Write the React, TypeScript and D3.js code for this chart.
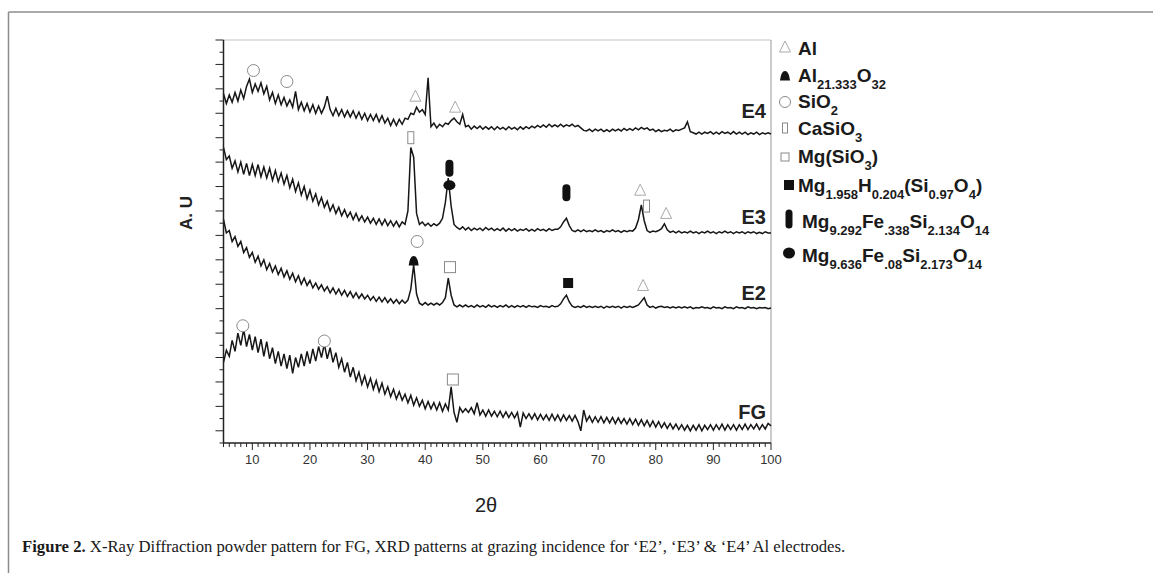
import * as d3 from "d3";

// 2θ grid shared by every pattern (0.5° step)
const angles = d3.range(5, 100.001, 0.5);

// intensities in arbitrary units (patterns already stacked), one value per angle
const e4 = [
  28.6, 27.8, 28.5, 27.9, 28.7, 28.0, 28.9, 28.2, 29.2, 29.8, 28.7, 29.4, 28.8, 29.5, 28.6, 29.2, 28.1, 28.7, 27.8, 28.5,
  27.7, 28.3, 27.6, 28.1, 27.5, 28.8, 27.3, 27.9, 27.2, 27.8, 27.1, 27.7, 27.0, 27.6, 27.0, 27.5, 28.4, 27.3, 26.8, 27.4,
  26.8, 27.3, 26.7, 27.2, 26.7, 27.2, 26.6, 27.1, 26.5, 27.0, 26.4, 26.9, 26.4, 26.9, 26.3, 26.8, 26.2, 26.6, 26.0, 26.5,
  26.0, 26.5, 26.1, 26.6, 26.5, 27.0, 26.9, 27.5, 27.1, 27.3, 26.9, 29.9, 25.9, 26.2, 25.8, 26.1, 25.9, 26.2, 26.1, 26.4,
  26.6, 26.3, 26.1, 26.9, 25.9, 26.0, 25.7, 25.95, 25.75, 25.95, 25.7, 25.9, 25.7, 25.9, 25.65, 25.9, 25.7, 25.85, 25.65, 25.9,
  25.7, 25.85, 25.65, 25.9, 25.7, 25.9, 25.75, 25.95, 25.8, 26.0, 25.85, 26.05, 25.85, 26.1, 25.9, 26.05, 25.9, 26.1, 25.9, 26.05,
  25.95, 26.1, 25.9, 26.0, 25.8, 25.6, 25.55, 25.7, 25.5, 25.7, 25.55, 25.7, 25.5, 25.65, 25.5, 25.7, 25.55, 25.7, 25.55, 25.75,
  25.6, 25.75, 25.6, 25.8, 25.65, 25.85, 25.7, 25.8, 25.6, 25.7, 25.5, 25.65, 25.5, 25.6, 25.55, 25.7, 25.5, 25.65, 25.6, 25.7,
  25.8, 26.3, 25.5, 25.4, 25.3, 25.45, 25.3, 25.45, 25.35, 25.5, 25.3, 25.45, 25.3, 25.5, 25.35, 25.45, 25.3, 25.5, 25.3, 25.45,
  25.3, 25.45, 25.25, 25.4, 25.3, 25.45, 25.25, 25.4, 25.3, 25.4, 25.3,
];

const e3 = [
  24.2, 23.2, 23.5, 22.5, 23.1, 22.2, 23.0, 22.0, 22.9, 21.9, 22.8, 21.9, 22.8, 21.8, 22.6, 21.7, 22.5, 21.5, 22.3, 21.4,
  22.1, 21.2, 21.9, 20.9, 21.6, 20.6, 21.3, 20.3, 21.0, 20.0, 20.7, 19.8, 20.4, 19.5, 20.1, 19.3, 19.8, 19.0, 19.5, 18.8,
  19.3, 18.6, 19.1, 18.5, 18.9, 18.3, 18.8, 18.2, 18.6, 18.1, 18.5, 18.0, 18.4, 17.9, 18.35, 17.85, 18.3, 17.8, 18.2, 17.75,
  18.15, 17.7, 18.1, 17.9, 19.0, 24.2, 23.4, 18.8, 17.9, 18.1, 17.8, 18.0, 17.75, 17.95, 17.8, 18.0, 18.4, 19.7, 21.7, 19.4,
  17.9, 17.65, 17.5, 17.7, 17.45, 17.65, 17.4, 17.6, 17.45, 17.6, 17.4, 17.65, 17.45, 17.6, 17.4, 17.55, 17.4, 17.6, 17.35, 17.55,
  17.4, 17.55, 17.35, 17.5, 17.4, 17.55, 17.35, 17.5, 17.35, 17.55, 17.4, 17.5, 17.35, 17.55, 17.4, 17.5, 17.5, 17.7, 18.1, 18.4,
  17.8, 17.4, 17.3, 17.45, 17.3, 17.45, 17.3, 17.4, 17.3, 17.45, 17.3, 17.4, 17.25, 17.4, 17.3, 17.45, 17.3, 17.4, 17.25, 17.4,
  17.3, 17.4, 17.35, 17.6, 18.3, 19.5, 18.2, 17.4, 17.25, 17.35, 17.3, 17.4, 17.55, 17.95, 17.45, 17.25, 17.35, 17.2, 17.35, 17.2,
  17.3, 17.2, 17.35, 17.2, 17.3, 17.15, 17.3, 17.2, 17.35, 17.2, 17.3, 17.15, 17.3, 17.2, 17.35, 17.2, 17.3, 17.15, 17.3, 17.2,
  17.3, 17.15, 17.3, 17.2, 17.3, 17.15, 17.25, 17.15, 17.3, 17.2, 17.2,
];

const e2 = [
  18.3, 17.2, 17.4, 16.5, 16.9, 16.1, 16.5, 15.6, 16.0, 15.2, 15.6, 14.8, 15.3, 14.5, 15.0, 14.2, 14.7, 14.0, 14.5, 13.8,
  14.3, 13.6, 14.1, 13.4, 13.9, 13.2, 13.7, 13.0, 13.5, 12.9, 13.3, 12.7, 13.1, 12.6, 12.95, 12.45, 12.8, 12.3, 12.7, 12.2,
  12.6, 12.1, 12.5, 12.0, 12.4, 11.9, 12.3, 11.85, 12.2, 11.8, 12.1, 11.7, 12.0, 11.6, 11.95, 11.55, 11.9, 11.5, 11.8, 11.45,
  11.75, 11.4, 11.7, 11.45, 11.7, 12.6, 14.6, 12.2, 11.45, 11.3, 11.5, 11.3, 11.45, 11.3, 11.45, 11.3, 11.5, 11.9, 13.5, 12.1,
  11.3, 11.15, 11.3, 11.15, 11.3, 11.15, 11.25, 11.1, 11.3, 11.15, 11.25, 11.1, 11.3, 11.15, 11.25, 11.1, 11.25, 11.15, 11.3, 11.1,
  11.25, 11.1, 11.25, 11.15, 11.25, 11.1, 11.25, 11.15, 11.2, 11.1, 11.25, 11.15, 11.2, 11.1, 11.25, 11.15, 11.2, 11.4, 11.8, 12.1,
  11.55, 11.2, 11.1, 11.2, 11.1, 11.25, 11.1, 11.2, 11.1, 11.2, 11.1, 11.2, 11.05, 11.2, 11.1, 11.2, 11.1, 11.2, 11.05, 11.2,
  11.1, 11.2, 11.1, 11.2, 11.3, 11.6, 11.9, 11.3, 11.1, 11.2, 11.05, 11.15, 11.2, 11.1, 11.15, 11.05, 11.15, 11.05, 11.15, 11.05,
  11.15, 11.05, 11.15, 11.0, 11.1, 11.05, 11.15, 11.05, 11.1, 11.0, 11.15, 11.05, 11.1, 11.0, 11.15, 11.05, 11.1, 11.0, 11.15, 11.05,
  11.1, 11.0, 11.15, 11.05, 11.1, 11.0, 11.1, 11.05, 11.1, 11.0, 11.05,
];

const fg = [
  6.6, 7.6, 7.1, 8.4, 7.5, 9.0, 8.0, 9.3, 7.9, 8.9, 7.6, 8.7, 7.4, 8.5, 7.1, 8.3, 6.9, 7.8, 6.5, 7.5,
  6.3, 7.3, 6.1, 7.2, 5.7, 7.0, 6.2, 7.3, 6.3, 7.5, 6.5, 7.7, 6.7, 7.9, 7.0, 8.1, 6.9, 7.8, 6.6, 7.4,
  6.2, 6.9, 5.8, 6.6, 5.4, 6.2, 5.1, 5.8, 4.8, 5.5, 4.6, 5.3, 4.4, 5.1, 4.2, 4.9, 4.0, 4.6, 3.8, 4.4,
  3.6, 4.2, 3.5, 4.0, 3.3, 3.9, 3.1, 3.7, 3.0, 3.5, 2.8, 3.4, 2.8, 3.3, 2.7, 3.3, 2.6, 3.2, 2.7, 4.6,
  2.5, 1.7, 2.9, 2.5, 2.8, 2.5, 2.9, 2.4, 3.3, 2.3, 2.7, 2.2, 2.7, 2.2, 2.6, 2.15, 2.6, 2.1, 2.55, 2.1,
  2.5, 2.05, 2.5, 1.3, 2.45, 2.0, 2.4, 1.95, 2.4, 1.9, 2.35, 1.9, 2.3, 1.85, 2.35, 1.85, 2.3, 1.8, 2.3, 1.85,
  2.25, 1.8, 2.25, 1.75, 1.0, 2.7, 1.8, 2.2, 1.7, 2.15, 1.7, 2.15, 1.65, 2.1, 1.65, 2.1, 1.6, 2.05, 1.6, 2.0,
  1.55, 2.0, 1.5, 1.95, 1.45, 1.9, 1.4, 1.85, 1.35, 1.8, 1.3, 1.75, 1.25, 1.65, 1.2, 1.6, 1.15, 1.55, 1.1, 1.5,
  1.05, 1.45, 1.0, 1.45, 1.05, 1.5, 1.0, 1.45, 1.1, 1.5, 1.05, 1.5, 1.1, 1.55, 1.05, 1.5, 1.1, 1.5, 1.05, 1.5,
  1.1, 1.55, 1.1, 1.5, 1.15, 1.55, 1.1, 1.5, 1.15, 1.6, 1.4,
];

const patterns = [
  { name: "E4", values: e4, labelAt: 26.6 },
  { name: "E3", values: e3, labelAt: 17.9 },
  { name: "E2", values: e2, labelAt: 11.7 },
  { name: "FG", values: fg, labelAt: 2.0 },
];

// phase markers: [2θ, height (a.u.), symbol]
const peakMarks: [number, number, string][] = [
  [10.2, 30.5, "circle"], [16.0, 29.6, "circle"], [38.3, 28.4, "tri"], [45.2, 27.5, "tri"],
  [37.5, 25.0, "rect"], [44.2, 22.5, "pill"], [44.2, 21.1, "ellipse"], [64.5, 20.5, "pill"],
  [77.3, 20.7, "tri"], [78.4, 19.4, "rect"], [81.8, 18.8, "tri"],
  [38.6, 16.5, "circle"], [38.0, 14.9, "dome"], [44.3, 14.4, "square"], [64.8, 13.1, "fsquare"], [77.8, 12.9, "tri"],
  [8.35, 9.6, "circle"], [22.5, 8.35, "circle"], [44.8, 5.2, "square"],
];

const xTicks = d3.range(10, 101, 10);

const legendItems: { symbol: string; parts: [string, boolean][] }[] = [
  { symbol: "tri", parts: [["Al", false]] },
  { symbol: "dome", parts: [["Al", false], ["21.333", true], ["O", false], ["32", true]] },
  { symbol: "circle", parts: [["SiO", false], ["2", true]] },
  { symbol: "rect", parts: [["CaSiO", false], ["3", true]] },
  { symbol: "square", parts: [["Mg(SiO", false], ["3", true], [")", false]] },
  { symbol: "fsquare", parts: [["Mg", false], ["1.958", true], ["H", false], ["0.204", true], ["(Si", false], ["0.97", true], ["O", false], ["4", true], [")", false]] },
  { symbol: "pill", parts: [["Mg", false], ["9.292", true], ["Fe", false], [".338", true], ["Si", false], ["2.134", true], ["O", false], ["14", true]] },
  { symbol: "ellipse", parts: [["Mg", false], ["9.636", true], ["Fe", false], [".08", true], ["Si", false], ["2.173", true], ["O", false], ["14", true]] },
];
const legendBaselines = [55, 82, 108, 135, 163, 192, 228, 262];
const legendSymbolY = [47, 76, 102, 128, 157, 185, 219, 253];

const SANS = "'Liberation Sans', Arial, sans-serif";
const x = d3.scaleLinear().domain([5, 100]).range([223.5, 771]);
const y = d3.scaleLinear().domain([0, 33]).range([443, 40]);

function Symbol({ type, cx, cy, legend = false }: { type: string; cx: number; cy: number; legend?: boolean }) {
  const outline = { fill: "#fff", stroke: "#8a8a8a", strokeWidth: 1 };
  switch (type) {
    case "circle":
      return <circle cx={cx} cy={cy} r={legend ? 5.5 : 6} {...outline} />;
    case "tri":
      return <path d={`M${cx},${cy - 6}L${cx + 5.5},${cy + 5}L${cx - 5.5},${cy + 5}Z`} {...outline} stroke="#aaa" />;
    case "rect":
      return legend
        ? <rect x={cx - 2.5} y={cy - 5} width={5} height={10} {...outline} />
        : <rect x={cx - 3} y={cy - 6} width={6} height={12} {...outline} />;
    case "square":
      return legend
        ? <rect x={cx - 4} y={cy - 4} width={8} height={8} {...outline} />
        : <rect x={cx - 5.5} y={cy - 5.5} width={11} height={11} {...outline} />;
    case "fsquare":
      return <rect x={cx - 5} y={cy - 5} width={10} height={10} fill="#111" />;
    case "pill":
      return legend
        ? <rect x={cx - 3.5} y={cy - 9.5} width={7} height={19} rx={3.5} fill="#111" />
        : <rect x={cx - 4} y={cy - 8.5} width={8} height={17} rx={4} fill="#111" />;
    case "ellipse":
      return legend
        ? <ellipse cx={cx} cy={cy} rx={6} ry={5.5} fill="#111" />
        : <ellipse cx={cx} cy={cy} rx={6} ry={5} fill="#111" />;
    case "dome":
      return <path d={`M${cx - 5},${cy + 4.5}L${cx + 5},${cy + 4.5}Q${cx + 4},${cy - 5} ${cx},${cy - 5}Q${cx - 4},${cy - 5} ${cx - 5},${cy + 4.5}Z`} fill="#111" />;
    default:
      return null;
  }
}

export default function App() {
  const line = d3.line<number>().x((_, i) => x(angles[i])).y((d) => y(d));
  const minorX = d3.range(5, 100.5, 1);
  const yTicks = d3.range(0, 34, 1);

  return (
    <svg width={1153} height={573} style={{ display: "block", position: "absolute", left: 0, top: 0 }}>
      <rect width={1153} height={573} fill="#fff" />
      {/* page frame */}
      <line x1={8.5} y1={12} x2={1153} y2={12} stroke="#8c8c8c" strokeWidth={1.5} />
      <line x1={8.5} y1={12} x2={8.5} y2={573} stroke="#8c8c8c" strokeWidth={1.5} />

      {/* plot frame */}
      <line x1={x(5)} y1={y(33)} x2={x(100)} y2={y(33)} stroke="#c4c4c4" strokeWidth={1.2} />
      <line x1={x(100)} y1={y(33)} x2={x(100)} y2={y(0)} stroke="#a8a8a8" strokeWidth={1.2} />

      {patterns.map((p) => (
        <path key={p.name} d={line(p.values) ?? ""} fill="none" stroke="#161616" strokeWidth={1.5} strokeLinejoin="miter" />
      ))}

      {patterns.map((p) => (
        <text key={p.name} x={766} y={y(p.labelAt)} textAnchor="end" fontFamily={SANS} fontWeight="bold" fontSize={20} fill="#222">
          {p.name}
        </text>
      ))}

      {peakMarks.map(([a, v, s], i) => (
        <Symbol key={i} type={s} cx={x(a)} cy={y(v)} />
      ))}

      {/* axes */}
      <line x1={x(5)} y1={y(0)} x2={x(100)} y2={y(0)} stroke="#222" strokeWidth={1.5} />
      <line x1={x(5)} y1={y(0)} x2={x(5)} y2={y(33)} stroke="#222" strokeWidth={1.5} />
      {minorX.map((t) => (
        <line key={t} x1={x(t)} x2={x(t)} y1={y(0)} y2={y(0) + (t % 10 === 0 ? 7 : 4)} stroke="#222" strokeWidth={1} />
      ))}
      {yTicks.map((t) => (
        <line key={t} x1={x(5)} x2={x(5) - ((33 - t) % 2 === 0 ? 8 : 4)} y1={y(t)} y2={y(t)} stroke="#222" strokeWidth={1} />
      ))}
      {xTicks.map((t) => (
        <text key={t} x={x(t)} y={464} textAnchor="middle" fontFamily={SANS} fontSize={13} fill="#333">
          {t}
        </text>
      ))}
      <text x={486} y={512} textAnchor="middle" fontFamily={SANS} fontSize={20} fill="#222">
        2θ
      </text>
      <text transform="translate(192,213) rotate(-90)" textAnchor="middle" fontFamily={SANS} fontWeight="bold" fontSize={17} fill="#222">
        A. U
      </text>

      {/* legend */}
      {legendItems.map((item, i) => (
        <g key={i}>
          <Symbol type={item.symbol} cx={item.symbol === "fsquare" || item.symbol === "pill" || item.symbol === "ellipse" ? 789 : 785} cy={legendSymbolY[i]} legend />
          <text x={item.symbol === "pill" || item.symbol === "ellipse" ? 802 : 798} y={legendBaselines[i]} fontFamily={SANS} fontWeight="bold" fill="#1a1a1a">
            {item.parts.map(([s, sub], j) => (
              <tspan key={j} y={sub ? legendBaselines[i] + 7 : legendBaselines[i]} fontSize={sub ? 13 : 19}>
                {s}
              </tspan>
            ))}
          </text>
        </g>
      ))}

      {/* caption */}
      <text x={22} y={552} fontFamily="'Liberation Serif', 'Times New Roman', serif" fontSize={16.7} fill="#1a1a1a">
        <tspan fontWeight="bold">Figure 2.</tspan>
        <tspan> X-Ray Diffraction powder pattern for FG, XRD patterns at grazing incidence for ‘E2’, ‘E3’ &amp; ‘E4’ Al electrodes.</tspan>
      </text>
    </svg>
  );
}
